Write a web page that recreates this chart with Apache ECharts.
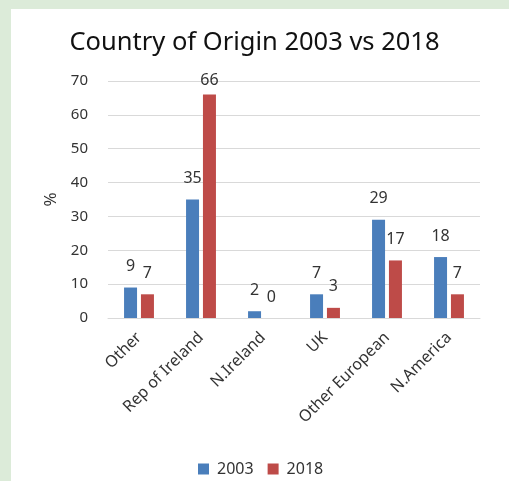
<!DOCTYPE html>
<html><head><meta charset="utf-8">
<script src="https://cdn.jsdelivr.net/npm/echarts@6/dist/echarts.min.js"></script>
<style>
html,body{margin:0;padding:0;background:#dcebd9;}
#wrap{position:absolute;left:11px;top:9px;width:498px;height:472px;background:#fff;}
#c{position:absolute;left:0;top:0;width:509px;height:481px;}
</style></head>
<body><div id="wrap"></div><div id="c"></div>
<script>
const categories = ['Other','Rep of Ireland','N.Ireland','UK','Other European','N.America'];
const values2003 = [9,35,2,7,29,18];
const values2018 = [7,66,0,3,17,7];
const seriesNames = ['2003','2018'];
const FONT = 'Noto Sans';
const chart = echarts.init(document.getElementById('c'), null, {renderer:'canvas'});
const lbl = {show:true, position:'top', distance:13, color:'#333', fontSize:16, fontFamily:FONT};
const toData = arr => arr.map(v => v > 60 ? {value:v, label:{distance:6}} : v);
chart.setOption({
  backgroundColor:'transparent',
  title:{text:'Country of Origin 2003 vs 2018', left:'center', top:25, textStyle:{fontFamily:FONT, fontSize:25.5, fontWeight:'normal', color:'#111'}},
  grid:{left:108, right:29, top:81, bottom:163},
  legend:{top:456, left:193, itemWidth:11, itemHeight:11, itemGap:14, icon:'rect', textStyle:{fontFamily:FONT, fontSize:16, color:'#333', padding:[0,0,0,3]}, data:seriesNames},
  xAxis:{type:'category', data:categories, axisTick:{show:false}, axisLine:{lineStyle:{color:'#d9d9d9'}},
    axisLabel:{rotate:45, interval:0, margin:17, fontFamily:FONT, fontSize:16, color:'#333'}},
  yAxis:{type:'value', min:0, max:70, interval:10, name:'%', nameLocation:'middle', nameGap:48, nameRotate:90,
    nameTextStyle:{fontFamily:FONT, fontSize:17, color:'#333'},
    splitLine:{lineStyle:{color:'#d9d9d9'}}, axisLabel:{margin:20, fontFamily:FONT, fontSize:15, color:'#333'}},
  series:[
    {name:seriesNames[0], type:'bar', data:toData(values2003), barWidth:13, barGap:'30%', itemStyle:{color:'#4a7ebb'}, label:lbl},
    {name:seriesNames[1], type:'bar', data:toData(values2018), barWidth:13, itemStyle:{color:'#be4b48'}, label:lbl}
  ]
});
</script></body></html>
